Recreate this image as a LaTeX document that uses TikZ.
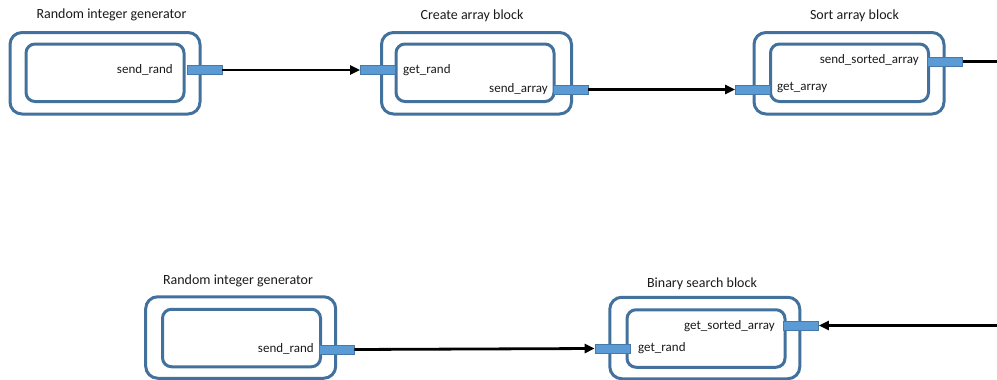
\documentclass[tikz,border=0pt]{standalone}
\usepackage{fontspec}
\setmainfont{Carlito}
\usetikzlibrary{arrows.meta}
\definecolor{blockblue}{HTML}{41719C}
\definecolor{portblue}{HTML}{5B9BD5}
\definecolor{txt}{HTML}{1A1A1A}
\begin{document}
\begin{tikzpicture}[x=1pt,y=-1pt,
 outerbox/.style={draw=blockblue,line width=3pt,rounded corners=12pt,minimum width=190pt,minimum height=81.5pt,inner sep=0pt},
 innerbox/.style={draw=blockblue,line width=3pt,rounded corners=9pt,minimum width=158pt,minimum height=57.5pt,inner sep=0pt},
 port/.style={draw=blockblue!80!portblue,fill=portblue,line width=0.7pt,minimum width=35pt,minimum height=9pt,inner sep=0pt},
 title/.style={font=\fontsize{14}{16}\selectfont,text=txt,inner sep=0pt},
 lbl/.style={font=\fontsize{13}{15}\selectfont,text=txt,inner sep=0pt},
 flow/.style={line width=2.8pt,-{Triangle[length=10pt,width=9pt]}},
 plain/.style={line width=2.8pt},
]
\useasboundingbox (0,0) rectangle (997,380);

% Block 1: Random integer generator (top)
\node[outerbox] (b1o) at (105,73.25) {};
\node[innerbox] (b1i) at (105,72.75) {};
\node[title] (t1) at (111.5,15) {Random integer generator};
\node[port] (p1out) at (204.5,70) {};
\node[lbl,anchor=east] (l1out) at (173,70) {send\_rand};

% Block 2: Create array block
\node[outerbox] (b2o) at (476.5,73.25) {};
\node[innerbox] (b2i) at (475,72.75) {};
\node[title] (t2) at (472,16) {Create array block};
\node[port] (p2in) at (378,70) {};
\node[port] (p2out) at (570.5,89.5) {};
\node[lbl,anchor=west] (l2in) at (403,70) {get\_rand};
\node[lbl,anchor=east] (l2out) at (548,89) {send\_array};

% Block 3: Sort array block
\node[outerbox] (b3o) at (849,73.25) {};
\node[innerbox] (b3i) at (849.5,72.75) {};
\node[title] (t3) at (854.5,16) {Sort array block};
\node[port] (p3in) at (753,89.5) {};
\node[port] (p3out) at (945,61.5) {};
\node[lbl,anchor=west] (l3in) at (777,88) {get\_array};
\node[lbl,anchor=east] (l3out) at (919,60) {send\_sorted\_array};

% Block 4: Random integer generator (bottom)
\node[outerbox] (b4o) at (240.7,337.5) {};
\node[innerbox] (b4i) at (241.5,338) {};
\node[title] (t4) at (238,281) {Random integer generator};
\node[port] (p4out) at (336.5,349.5) {};
\node[lbl,anchor=east] (l4out) at (314,348.5) {send\_rand};

% Block 5: Binary search block
\node[outerbox] (b5o) at (704.8,338) {};
\node[innerbox] (b5i) at (706,338.5) {};
\node[title] (t5) at (702,284) {Binary search block};
\node[port] (p5in) at (612.5,348.5) {};
\node[port] (p5in2) at (801,325.5) {};
\node[lbl,anchor=west] (l5in) at (638,348) {get\_rand};
\node[lbl,anchor=east] (l5in2) at (775,326) {get\_sorted\_array};

% free ends at the right edge
\coordinate (edgeTop) at (997,61.5);
\coordinate (edgeBot) at (997,325.5);

% connectors
\draw[flow] (p1out.east) -- (p2in.west);
\draw[flow] (p2out.east) -- (p3in.west);
\draw[plain] (p3out.east) -- (edgeTop);
\draw[flow] (p4out.east) -- (p5in.west);
\draw[flow] (edgeBot) -- (p5in2.east);
\end{tikzpicture}
\end{document}
